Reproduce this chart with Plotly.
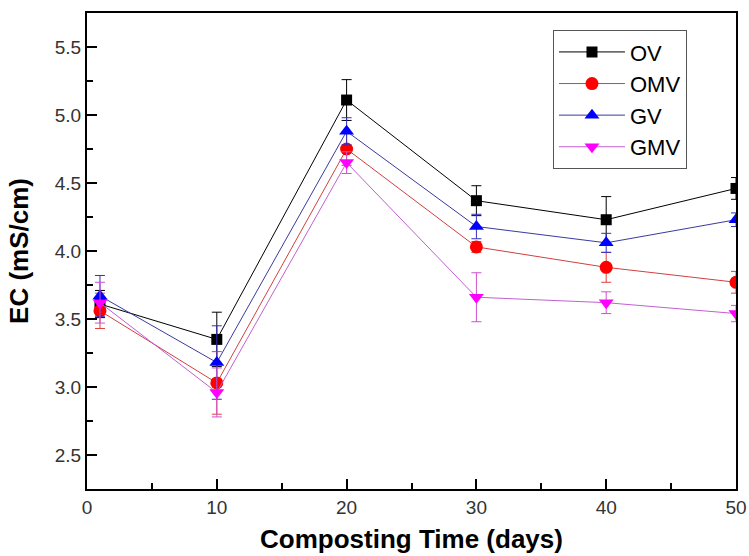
import plotly.graph_objects as go

days = [1, 10, 20, 30, 40, 50]
series_names = ["OV", "OMV", "GV", "GMV"]
ov = [3.61, 3.35, 5.11, 4.37, 4.23, 4.46]
omv = [3.56, 3.03, 4.75, 4.03, 3.88, 3.77]
gv = [3.67, 3.18, 4.88, 4.18, 4.06, 4.23]
gmv = [3.62, 2.96, 4.65, 3.66, 3.62, 3.54]
ov_err = [0.10, 0.20, 0.15, 0.11, 0.17, 0.08]
omv_err = [0.13, 0.23, 0.12, 0.04, 0.11, 0.08]
gv_err = [0.15, 0.27, 0.10, 0.09, 0.07, 0.05]
gmv_err = [0.15, 0.18, 0.08, 0.18, 0.08, 0.06]

values = [ov, omv, gv, gmv]
errors = [ov_err, omv_err, gv_err, gmv_err]
line_colors = ["#000000", "#d04040", "#3a3aa0", "#c060d0"]
marker_colors = ["#000000", "#ff0000", "#0000ff", "#ff00ff"]
err_colors = ["#000000", "#e04040", "#3030c0", "#d050d0"]
symbols = ["square", "circle", "triangle-up", "triangle-down"]
sizes = [11, 13, 13, 13]

fig = go.Figure()
for name, y, e, lc, mc, ec, sym, sz in zip(series_names, values, errors, line_colors,
                                           marker_colors, err_colors, symbols, sizes):
    fig.add_trace(go.Scatter(
        x=days, y=y, name=name, mode="lines+markers",
        line=dict(color=lc, width=1),
        marker=dict(symbol=sym, size=sz, color=mc),
        error_y=dict(type="data", array=e, color=ec, thickness=1, width=5),
    ))

axis_common = dict(
    showline=True, linecolor="black", linewidth=2, mirror=True,
    ticks="inside", ticklen=10, tickwidth=1.5, tickcolor="black",
    showgrid=False, zeroline=False, automargin=False,
    tickfont=dict(family="Liberation Sans, Arial", size=19, color="#333"),
)

fig.update_xaxes(
    range=[0, 50], dtick=10, tick0=0,
    minor=dict(dtick=5, ticks="inside", ticklen=6, tickcolor="black", tickwidth=1.5),
    title=dict(text="<b>Composting Time (days)</b>",
               font=dict(family="Liberation Sans, Arial", size=26, color="black"),
               standoff=13),
    **axis_common,
)
fig.update_yaxes(
    range=[2.25, 5.75], dtick=0.5, tick0=2.5, tickformat=".1f",
    minor=dict(dtick=0.25, ticks="inside", ticklen=6, tickcolor="black", tickwidth=1.5),
    title=dict(text="<b>EC (mS/cm)</b>",
               font=dict(family="Liberation Sans, Arial", size=26, color="black"),
               standoff=19),
    **axis_common,
)

fig.update_layout(
    width=749, height=556,
    margin=dict(l=87, r=13, t=13, b=67),
    plot_bgcolor="white", paper_bgcolor="white",
    legend=dict(x=0.718, y=0.964, xanchor="left", yanchor="top",
                bordercolor="#555", borderwidth=1, bgcolor="white",
                font=dict(family="Liberation Sans, Arial", size=22, color="black"),
                itemwidth=66, tracegroupgap=0),
    showlegend=True,
)

fig.write_html("out.html", config={"displayModeBar": False},
               post_script="document.body.style.margin='0';document.body.style.overflow='hidden';")
